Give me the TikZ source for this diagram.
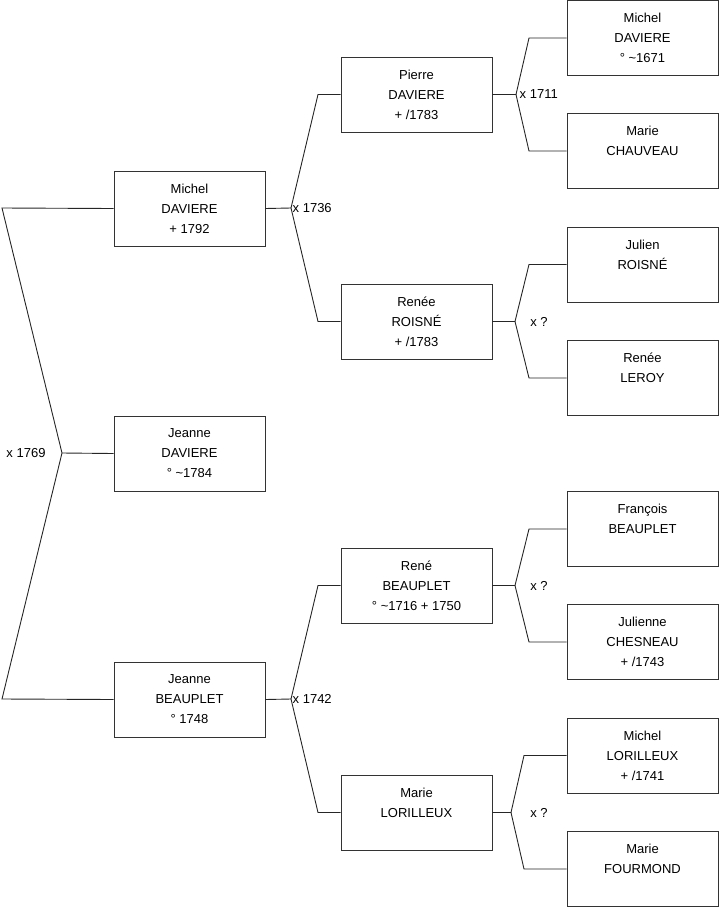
\documentclass[tikz,border=0pt]{standalone}
\usepackage{fontspec}
\setmainfont{Liberation Sans}
\begin{document}
\begin{tikzpicture}[x=1pt,y=-1pt,
  person/.style={draw=black!80, line width=0.9pt, minimum width=151pt, minimum height=75pt,
    align=center, inner sep=0pt, font={\fontsize{13}{20}\selectfont}},
  link/.style={draw=black!85, line width=0.9pt},
  mar/.style={font={\fontsize{13}{16}\selectfont}, inner sep=1pt}]
\useasboundingbox (0,0) rectangle (719,908);
% column 1
\node[person] (md) at (189.5,208.5) {Michel\\DAVIERE\\+ 1792};
\node[person] (jd) at (189.5,453.5) {Jeanne\\DAVIERE\\° \textasciitilde1784};
\node[person] (jb) at (189.5,699.5) {Jeanne\\BEAUPLET\\° 1748};
% column 2
\node[person] (pd) at (416.5,94.5) {Pierre\\DAVIERE\\+ /1783};
\node[person] (rr) at (416.5,321.5) {Renée\\ROISNÉ\\+ /1783};
\node[person] (rb) at (416.5,585.5) {René\\BEAUPLET\\° \textasciitilde1716 + 1750};
\node[person] (ml) at (416.5,812.5) {Marie\\LORILLEUX\\\mbox{}};
% column 3
\node[person] (mi) at (642.5,38) {Michel\\DAVIERE\\° \textasciitilde1671};
\node[person] (mc) at (642.5,151) {Marie\\CHAUVEAU\\\mbox{}};
\node[person] (jr) at (642.5,264.5) {Julien\\ROISNÉ\\\mbox{}};
\node[person] (rl) at (642.5,378) {Renée\\LEROY\\\mbox{}};
\node[person] (fb) at (642.5,529) {François\\BEAUPLET\\\mbox{}};
\node[person] (jc) at (642.5,642) {Julienne\\CHESNEAU\\+ /1743};
\node[person] (mlo) at (642.5,755.5) {Michel\\LORILLEUX\\+ /1741};
\node[person] (mf) at (642.5,869) {Marie\\FOURMOND\\\mbox{}};
% junction coordinates
\coordinate (a1) at (2,208);
\coordinate (v1) at (62,453);
\coordinate (a2) at (2,699);
\coordinate (v2) at (291,208);
\coordinate (b1) at (318,94.5);
\coordinate (b2) at (318,321.5);
\coordinate (v3) at (291,699);
\coordinate (b3) at (318,585.5);
\coordinate (b4) at (318,812.5);
\coordinate (v4) at (516,94.5);
\coordinate (c1) at (529,38);
\coordinate (c2) at (529,151);
\coordinate (v5) at (515,321.5);
\coordinate (c3) at (529,264.5);
\coordinate (c4) at (529,378);
\coordinate (v6) at (515,585.5);
\coordinate (c5) at (529,529);
\coordinate (c6) at (529,642);
\coordinate (v7) at (511,812.5);
\coordinate (c7) at (524,755.5);
\coordinate (c8) at (524,869);
% connectors
\draw[link] (md.west) -- (a1) -- (v1) -- (a2) -- (jb.west);
\draw[link] (v1) -- (jd.west);
\draw[link] (md.east) -- (v2) -- (b1) -- (pd.west);
\draw[link] (v2) -- (b2) -- (rr.west);
\draw[link] (jb.east) -- (v3) -- (b3) -- (rb.west);
\draw[link] (v3) -- (b4) -- (ml.west);
\draw[link] (pd.east) -- (v4) -- (c1) -- (mi.west);
\draw[link] (v4) -- (c2) -- (mc.west);
\draw[link] (rr.east) -- (v5) -- (c3) -- (jr.west);
\draw[link] (v5) -- (c4) -- (rl.west);
\draw[link] (rb.east) -- (v6) -- (c5) -- (fb.west);
\draw[link] (v6) -- (c6) -- (jc.west);
\draw[link] (ml.east) -- (v7) -- (c7) -- (mlo.west);
\draw[link] (v7) -- (c8) -- (mf.west);
% marriage labels
\node[mar] (x1) at (26,453) {x 1769};
\node[mar, anchor=west] (x2) at (291.5,208) {x 1736};
\node[mar, anchor=west] (x3) at (291.5,699) {x 1742};
\node[mar, anchor=west] (x4) at (518.5,94.5) {x 1711};
\node[mar] (x5) at (539,321.5) {x ?};
\node[mar] (x6) at (539,585.5) {x ?};
\node[mar] (x7) at (539,812.5) {x ?};
\end{tikzpicture}
\end{document}
